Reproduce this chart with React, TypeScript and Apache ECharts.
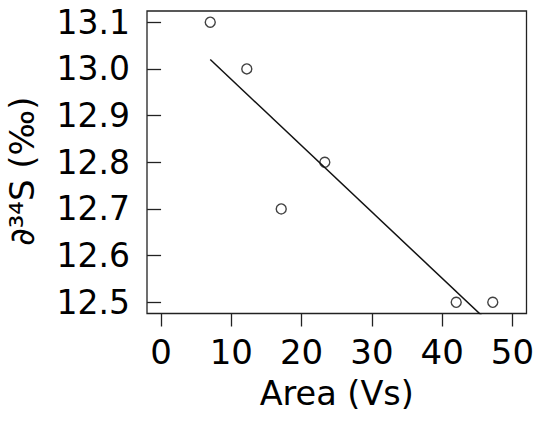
import React, { useEffect, useRef } from "react";
import * as echarts from "echarts";

const areaValues = [7, 12.2, 17.1, 23.3, 42, 47.2];
const d34sValues = [13.1, 13.0, 12.7, 12.8, 12.5, 12.5];
const fitX = [7, 47];
const fitY = [13.02, 12.452];
const xTicks = [0, 10, 20, 30, 40, 50];
const yTicks = [12.5, 12.6, 12.7, 12.8, 12.9, 13.0, 13.1];
const xTitle = "Area (Vs)";
const yTitle = "∂³⁴S (‰)";

const FONT = "DejaVu Sans";

export default function App() {
  const ref = useRef<HTMLDivElement>(null);
  useEffect(() => {
    if (!ref.current) return;
    const chart = echarts.init(ref.current, undefined, { renderer: "svg" });
    const points = areaValues.map((x, i) => [x, d34sValues[i]]);
    const fit = fitX.map((x, i) => [x, fitY[i]]);
    chart.setOption({
      animation: false,
      backgroundColor: "#ffffff",
      grid: {
        left: 147,
        right: 7.5,
        top: 11,
        bottom: 107.5,
        show: true,
        borderColor: "#222222",
        borderWidth: 1.3,
        backgroundColor: "transparent",
        containLabel: false,
        outerBoundsMode: "none",
      },
      xAxis: {
        type: "value",
        min: -2,
        max: 52,
        name: xTitle,
        nameLocation: "middle",
        nameGap: 63,
        nameTextStyle: { fontFamily: FONT, fontSize: 33.5, color: "#000" },
        axisLine: { show: false },
        splitLine: { show: false },
        axisTick: {
          show: true,
          inside: false,
          length: 13,
          customValues: xTicks,
          lineStyle: { color: "#222", width: 1.3 },
        },
        axisLabel: {
          customValues: xTicks,
          margin: 21,
          fontFamily: FONT,
          fontSize: 34,
          color: "#000",
          formatter: (v: number) => String(v),
        },
      },
      yAxis: {
        type: "value",
        min: 12.476,
        max: 13.124,
        name: yTitle,
        nameLocation: "middle",
        nameRotate: 90,
        nameGap: 108,
        nameTextStyle: {
          fontFamily: FONT,
          fontSize: 34,
          color: "#000",
          padding: [0, 18, 0, 0],
        },
        axisLine: { show: false },
        splitLine: { show: false },
        axisTick: {
          show: true,
          inside: false,
          length: 14,
          customValues: yTicks,
          lineStyle: { color: "#222", width: 1.3 },
        },
        axisLabel: {
          customValues: yTicks,
          margin: 17,
          fontFamily: FONT,
          fontSize: 33,
          color: "#000",
          formatter: (v: number) => v.toFixed(1),
        },
      },
      series: [
        {
          type: "line",
          data: fit,
          showSymbol: false,
          symbol: "none",
          clip: true,
          lineStyle: { color: "#111", width: 1.5 },
          z: 2,
        },
        {
          type: "scatter",
          data: points,
          symbol: "circle",
          symbolSize: 10,
          itemStyle: { color: "rgba(255,255,255,0)", borderColor: "#111", borderWidth: 1.4 },
          z: 3,
        },
      ],
    });
    return () => chart.dispose();
  }, []);
  return (
    <div
      ref={ref}
      style={{ position: "fixed", left: 0, top: 0, width: 534, height: 421 }}
    />
  );
}
